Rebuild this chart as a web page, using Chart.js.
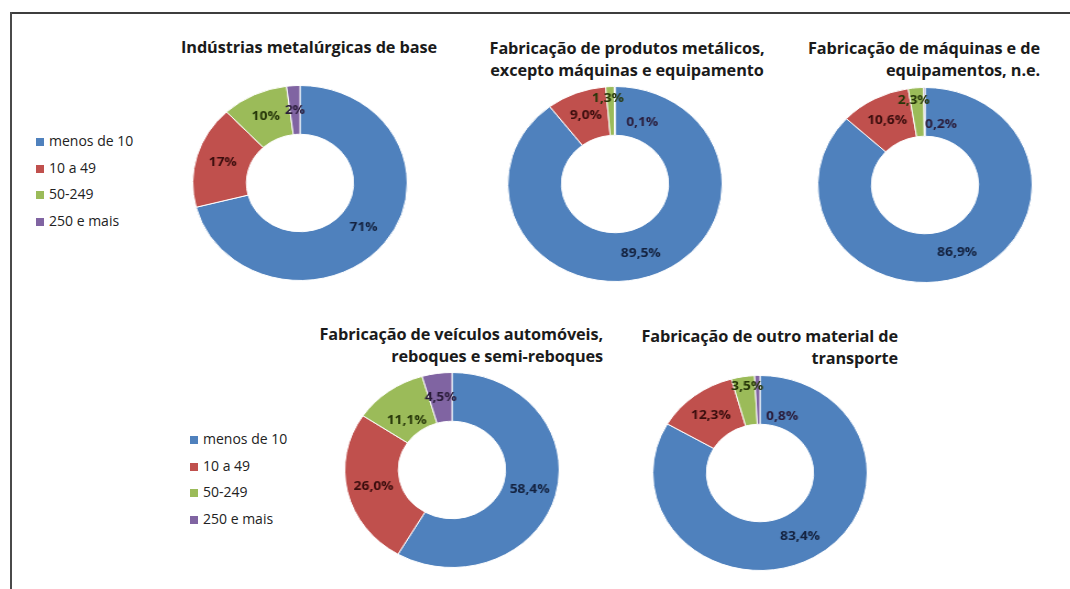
<!DOCTYPE html>
<html>
<head>
<meta charset="utf-8">
<script src="https://cdn.jsdelivr.net/npm/chart.js@4.4.1/dist/chart.umd.min.js"></script>
<style>
  html, body { margin: 0; padding: 0; background: #fff; }
  body { width: 1070px; height: 589px; position: relative; overflow: hidden; font-family: "Open Sans", Lato, sans-serif; }
  .frame-top { position: absolute; left: 10px; top: 12px; width: 1060px; height: 2px; background: #3d3d3d; }
  .frame-left { position: absolute; left: 10px; top: 12px; width: 2px; height: 577px; background: #4a4a4a; }
  .title { position: absolute; font-weight: bold; font-size: 16.3px; line-height: 22px; color: #1b1b1b; white-space: nowrap; letter-spacing: -0.1px; }
  .donut { position: absolute; width: 196px; height: 196px; transform: scaleX(1.1); transform-origin: 50% 50%; }
  .legend { position: absolute; font-size: 14px; color: #222; }
  .legend .item { position: relative; height: 26.5px; line-height: 16px; white-space: nowrap; }
  .legend .sw { position: absolute; left: 0; top: 4px; width: 8px; height: 8px; }
  .legend .tx { position: absolute; left: 13px; top: -1px; }
</style>
</head>
<body>
<div class="frame-top"></div>
<div class="frame-left"></div>

<div class="title" style="left:159px; width:300px; top:36px; text-align:center;">Indústrias metalúrgicas de base</div>
<div class="title" style="left:477px; width:300px; top:37px; text-align:center;">Fabricação de produtos metálicos,<br>excepto máquinas e equipamento</div>
<div class="title" style="right:30px; top:37px; text-align:right;">Fabricação de máquinas e de<br>equipamentos, n.e.</div>
<div class="title" style="right:467px; top:323px; text-align:right;">Fabricação de veículos automóveis,<br>reboques e semi-reboques</div>
<div class="title" style="right:172px; top:325px; text-align:right;">Fabricação de outro material de<br>transporte</div>

<div class="legend" id="legendTop" style="left:36px; top:134px;"></div>
<div class="legend" id="legendBottom" style="left:190px; top:432px;"></div>

<div class="donut" style="left:202px; top:85px;"><canvas id="c1"></canvas></div>
<div class="donut" style="left:517px; top:86px;"><canvas id="c2"></canvas></div>
<div class="donut" style="left:827px; top:87px;"><canvas id="c3"></canvas></div>
<div class="donut" style="left:354px; top:372px;"><canvas id="c4"></canvas></div>
<div class="donut" style="left:662px; top:375px;"><canvas id="c5"></canvas></div>

<script>
// ---- Data ----
const categories = ['menos de 10', '10 a 49', '50-249', '250 e mais'];
const valuesMetalurgicasBase = [71, 17, 10, 2];
const valuesProdutosMetalicos = [89.5, 9.0, 1.3, 0.1];
const valuesMaquinasEquipamentos = [86.9, 10.6, 2.3, 0.2];
const valuesVeiculosAutomoveis = [58.4, 26.0, 11.1, 4.5];
const valuesOutroMaterialTransporte = [83.4, 12.3, 3.5, 0.8];

// ---- Styles ----
const sliceColors = ['#4f81bd', '#c0504d', '#9bbb59', '#8064a2'];
const labelColors = ['#14223f', '#3a0d0d', '#263609', '#2a1c3a'];

// label nudges (pixels) for the thin slices, per chart: index -> [dx, dy]
const labelNudges = {
  c1: {},
  c2: { 2: [-3, -13], 3: [25, 12] },
  c3: { 2: [-4, -12], 3: [15, 13] },
  c4: { 2: [2, 9] },
  c5: { 2: [0, -14], 3: [22, 17] }
};

function buildLegend(id) {
  const el = document.getElementById(id);
  categories.forEach((c, i) => {
    const item = document.createElement('div');
    item.className = 'item';
    const sw = document.createElement('span');
    sw.className = 'sw';
    sw.style.background = sliceColors[i];
    const tx = document.createElement('span');
    tx.className = 'tx';
    tx.textContent = c;
    item.appendChild(sw);
    item.appendChild(tx);
    el.appendChild(item);
  });
}
buildLegend('legendTop');
buildLegend('legendBottom');

const sliceLabels = {
  id: 'sliceLabels',
  afterDatasetsDraw(chart, args, opts) {
    const ctx = chart.ctx;
    const meta = chart.getDatasetMeta(0);
    const data = chart.data.datasets[0].data;
    const nudges = opts.nudges || {};
    ctx.save();
    ctx.font = 'bold 12.5px "Open Sans", Lato, sans-serif';
    ctx.textAlign = 'center';
    ctx.textBaseline = 'middle';
    meta.data.forEach((arc, i) => {
      const p = arc.tooltipPosition(true);
      const n = nudges[i] || [0, 0];
      const txt = data[i].toFixed(opts.decimals).replace('.', ',') + '%';
      ctx.fillStyle = labelColors[i];
      ctx.fillText(txt, p.x + n[0], p.y + n[1]);
    });
    ctx.restore();
  }
};

function makeDonut(id, values, decimals) {
  new Chart(document.getElementById(id), {
    type: 'doughnut',
    data: {
      labels: categories,
      datasets: [{
        data: values,
        backgroundColor: sliceColors,
        borderColor: '#ffffff',
        borderWidth: 1,
        hoverOffset: 0
      }]
    },
    options: {
      responsive: true,
      maintainAspectRatio: false,
      animation: false,
      cutout: '50%',
      layout: { padding: 0 },
      plugins: {
        legend: { display: false },
        tooltip: { enabled: false },
        sliceLabels: { decimals: decimals, nudges: labelNudges[id] }
      }
    },
    plugins: [sliceLabels]
  });
}

makeDonut('c1', valuesMetalurgicasBase, 0);
makeDonut('c2', valuesProdutosMetalicos, 1);
makeDonut('c3', valuesMaquinasEquipamentos, 1);
makeDonut('c4', valuesVeiculosAutomoveis, 1);
makeDonut('c5', valuesOutroMaterialTransporte, 1);
</script>
</body>
</html>
